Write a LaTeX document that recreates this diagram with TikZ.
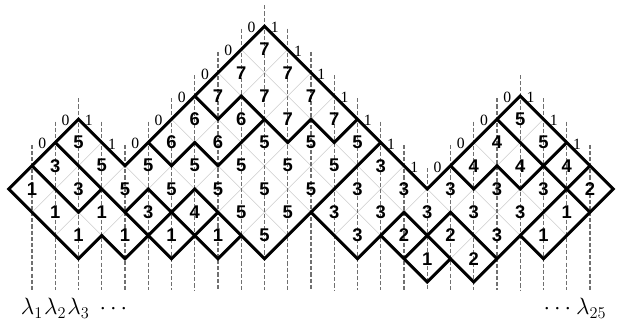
\documentclass[tikz,border=0pt]{standalone}
\usepackage{fontspec}
\usepackage{tikz}
\newfontfamily\numfont{Liberation Sans}
\newfontfamily\labfont{Liberation Serif}
\definecolor{gridgray}{HTML}{CCCCCC}
\definecolor{dashgray}{HTML}{707070}
\newcommand{\regionpath}{(0,0) -- (3,3) -- (5,1) -- (11,7) -- (18,0) -- (22,4) -- (26,0) -- (23,-3) -- (22,-2) -- (21,-3) -- (20,-4) -- (19,-3) -- (18,-4) -- (17,-3) -- (16,-2) -- (15,-3) -- (13,-1) -- (11,-3) -- (10,-2) -- (9,-3) -- (8,-2) -- (7,-3) -- (6,-2) -- (5,-3) -- (4,-2) -- (3,-3) -- cycle}

\begin{document}
\begin{tikzpicture}[x=0.6cm,y=0.6cm,
  cellnum/.style={font=\numfont\bfseries\fontsize{13.5}{13.5}\selectfont,inner sep=0pt},
  steplab/.style={font=\labfont\fontsize{11.5}{11.5}\selectfont,inner sep=0pt,yshift=-1pt,xshift=-1pt},
  lam/.style={font=\fontsize{18}{20}\selectfont,inner sep=0pt,anchor=base},
  fine/.style={draw=gridgray,line width=0.5pt},
  colline/.style={draw=dashgray,line width=0.8pt,dash pattern=on 3pt off 1.5pt},
  wall/.style={line width=2.2pt,line join=miter}]
  \useasboundingbox (-0.376,-5.935) rectangle (26.247,8.129);
  % light lattice inside the region
  \begin{scope}
    \clip \regionpath;
    \foreach \k in {-13,-11,...,31} \draw[fine] (\k,-5) -- ++(13,13);
    \foreach \k in {-5,-3,...,39} \draw[fine] (\k,-5) -- ++(-13,13);
  \end{scope}
  % dashed columns
  \foreach \c/\t in {1/1,2/2,3/3,4/2,5/1,6/2,7/3,8/4,9/5,10/6,11/7,12/6,13/5,14/4,15/3,16/2,17/1,18/0,19/1,20/2,21/3,22/4,23/3,24/2,25/1}
    \draw[colline] (\c,\t+0.9) -- (\c,-4.35);
  % outline and level lines
  \draw[wall] \regionpath;
  \draw[wall] (2,2) -- (6,-2);
  \draw[wall] (1,1) -- (3,-1) -- (4,0);
  \draw[wall] (5,-1) -- (6,0) -- (7,-1) -- (6,-2);
  \draw[wall] (6,2) -- (7,1) -- (8,2) -- (9,1) -- (10,2) -- (11,3) -- (12,2) -- (13,3) -- (14,2) -- (15,3);
  \draw[wall] (8,4) -- (9,3) -- (10,4) -- (11,3);
  \draw[wall] (7,-1) -- (8,0) -- (10,-2);
  \draw[wall] (7,-1) -- (8,-2) -- (9,-1);
  \draw[wall] (13,-1) -- (16,2);
  \draw[wall] (16,-2) -- (17,-1) -- (18,-2) -- (19,-1) -- (21,-3);
  \draw[wall] (17,-3) -- (18,-2) -- (19,-3);
  \draw[wall] (19,1) -- (20,0) -- (21,1) -- (22,0) -- (23,1) -- (24,0) -- (25,1);
  \draw[wall] (21,3) -- (23,1) -- (24,2);
  \draw[wall] (22,-2) -- (24,0) -- (25,-1);
  % cell values
  \foreach \c/\h/\v in {1/0/1, 2/1/3, 2/-1/1, 3/2/5, 3/0/3, 3/-2/1, 4/1/5, 4/-1/1, 5/0/5, 5/-2/1,
      6/1/5, 6/-1/3, 7/2/6, 7/0/5, 7/-2/1, 8/3/6, 8/1/5, 8/-1/4, 9/4/7, 9/2/6, 9/0/5, 9/-2/1,
      10/5/7, 10/3/6, 10/1/5, 10/-1/5, 11/6/7, 11/4/7, 11/2/5, 11/0/5, 11/-2/5,
      12/5/7, 12/3/7, 12/1/5, 12/-1/5, 13/4/7, 13/2/5, 13/0/5, 14/3/7, 14/1/5, 14/-1/3,
      15/2/5, 15/0/3, 15/-2/3, 16/1/3, 16/-1/3, 17/0/3, 17/-2/2, 18/-1/3, 18/-3/1,
      19/0/3, 19/-2/2, 20/1/4, 20/-1/3, 20/-3/2, 21/2/4, 21/0/3, 21/-2/3,
      22/3/5, 22/1/4, 22/-1/3, 23/2/5, 23/0/3, 23/-2/1, 24/1/4, 24/-1/1, 25/0/2}
    \node[cellnum] (v\c-\h) at (\c,\h) {\v};
  % step labels along the top
  \foreach \c/\h/\t in {1/2/0, 2/3/0, 3/3/1, 4/2/1, 5/2/0, 6/3/0, 7/4/0, 8/5/0, 9/6/0, 10/7/0,
      11/7/1, 12/6/1, 13/5/1, 14/4/1, 15/3/1, 16/2/1, 17/1/1, 18/1/0, 19/2/0, 20/3/0,
      21/4/0, 22/4/1, 23/3/1, 24/2/1}
    \node[steplab] (s\c) at (\c+0.5,\h) {\t};
  % column names
  \node[lam] (l1) at (1,-5.4) {$\lambda_1$};
  \node[lam] (l2) at (2,-5.4) {$\lambda_2$};
  \node[lam] (l3) at (3,-5.4) {$\lambda_3$};
  \node[lam] (dl) at (4.5,-5.4) {$\cdots$};
  \node[lam] (dr) at (23.6,-5.4) {$\cdots$};
  \node[lam] (l25) at (25.05,-5.4) {$\lambda_{25}$};
\end{tikzpicture}
\end{document}
